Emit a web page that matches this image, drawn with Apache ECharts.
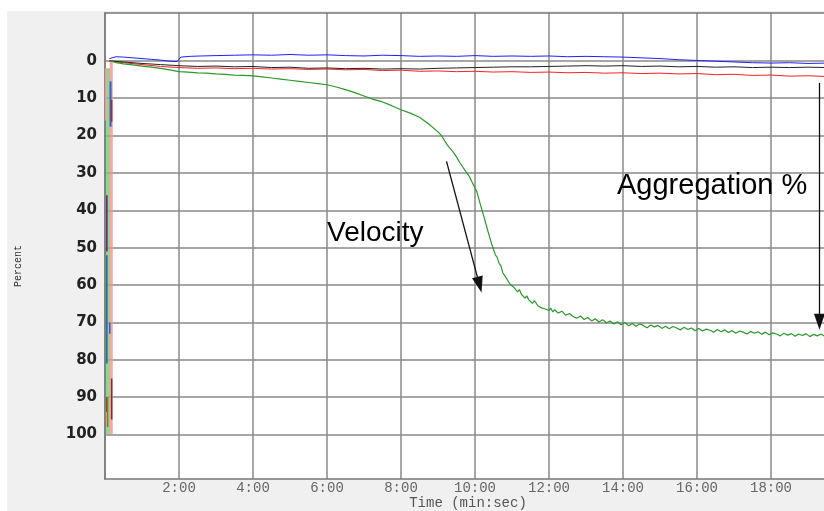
<!DOCTYPE html>
<html>
<head>
<meta charset="utf-8">
<script src="https://cdn.jsdelivr.net/npm/echarts@6/dist/echarts.min.js"></script>
<style>html,body{margin:0;padding:0;background:#fff}#c{width:824px;height:511px}</style>
</head>
<body>
<div id="c"></div>
<script>
// Y axis tick values (percent) and x axis tick values (minutes)
const yTicks = [0,10,20,30,40,50,60,70,80,90,100];
const xTicks = [2,4,6,8,10,12,14,16,18];

// [minutes, percent]
const greenData = [
[0.15,0.0],[0.3,0.5],[0.5,0.8],[0.75,1.1],[1.0,1.4],[1.25,1.7],[1.5,2.0],[1.75,2.4],[2.0,2.9],
[2.25,3.0],[2.5,3.2],[2.75,3.3],[3.0,3.5],[3.25,3.6],[3.5,3.8],[3.75,3.9],[4.0,4.0],[4.25,4.3],
[4.5,4.6],[4.75,4.9],[5.0,5.2],[5.25,5.5],[5.5,5.8],[5.75,6.1],[6.0,6.4],[6.25,7.0],[6.5,7.7],
[6.75,8.5],[7.0,9.4],[7.25,10.3],[7.5,11.0],[7.75,12.0],[8.0,13.1],[8.25,14.0],[8.5,15.1],
[8.75,16.9],[9.0,19.0],[9.1,20.1],[9.25,22.5],[9.4,24.3],[9.5,25.7],[9.6,27.4],[9.75,29.6],
[9.85,31.0],[9.95,33.0],[10.05,35.0],[10.15,38.6],[10.25,42.0],[10.35,45.6],[10.45,49.0],
[10.55,51.9],[10.6,52.6],[10.65,54.2],[10.7,54.8],[10.75,56.7],[10.8,56.9],[10.85,58.2],
[10.9,58.0],[10.95,59.8],[11.0,59.4],[11.05,60.6],[11.1,60.1],[11.15,61.8],[11.2,61.2],
[11.25,62.4],[11.3,62.0],[11.35,63.5],[11.4,62.9],[11.45,63.9],[11.5,63.6],[11.55,64.9],
[11.6,64.2],[11.65,64.8],[11.7,65.6],[11.75,65.2],[11.8,66.1],[11.85,65.7],[11.9,66.4],
[11.95,66.0],[12.0,66.8],[12.05,66.2],[12.1,67.2],[12.15,66.6],[12.25,67.5],[12.35,67.0],
[12.45,68.1],[12.55,67.6],[12.65,68.4],[12.75,68.9],[12.85,68.3],[12.95,69.2],[13.05,68.7],
[13.15,69.6],[13.25,69.0],[13.35,69.9],[13.45,69.3],[13.55,70.1],[13.65,69.6],[13.75,70.4],
[13.85,69.8],[13.95,70.6],[14.05,70.0],[14.15,70.9],[14.25,70.3],[14.35,71.0],[14.45,70.4],
[14.55,70.8],[14.65,71.4],[14.75,70.7],[14.85,71.2],[14.95,70.8],[15.05,71.6],[15.15,71.0],
[15.25,71.7],[15.35,71.1],[15.45,71.5],[15.55,72.0],[15.65,71.3],[15.75,71.9],[15.85,71.5],
[15.95,72.2],[16.05,71.6],[16.15,72.3],[16.25,71.8],[16.35,72.1],[16.45,72.6],[16.55,71.9],
[16.65,72.5],[16.75,72.0],[16.85,72.7],[16.95,72.2],[17.05,72.9],[17.15,72.3],[17.25,72.6],
[17.35,73.1],[17.45,72.4],[17.55,72.9],[17.65,72.5],[17.75,73.2],[17.85,72.6],[17.95,73.3],
[18.05,72.8],[18.15,73.1],[18.25,73.6],[18.35,72.9],[18.45,73.4],[18.55,73.0],[18.65,73.7],
[18.75,73.1],[18.85,73.5],[18.95,73.0],[19.05,73.8],[19.15,73.2],[19.25,73.6],[19.35,73.1],
[19.45,73.7],[19.55,73.3]
];
const blueData = [
[0.12,-0.6],[0.3,-1.1],[0.5,-1.0],[0.75,-0.8],[1.0,-0.6],[1.25,-0.4],[1.5,-0.2],[1.75,0.1],
[1.95,0.2],[2.05,-1.0],[2.3,-1.2],[2.6,-1.3],[3.0,-1.4],[3.5,-1.5],[4.0,-1.6],[4.5,-1.5],
[5.0,-1.7],[5.5,-1.5],[6.0,-1.6],[6.5,-1.4],[7.0,-1.3],[7.5,-1.5],[8.0,-1.4],[8.5,-1.2],
[9.0,-1.3],[9.5,-1.2],[10.0,-1.4],[10.5,-1.2],[11.0,-1.3],[11.5,-1.2],[12.0,-1.3],[12.5,-1.1],
[13.0,-1.2],[13.5,-1.1],[14.0,-1.0],[14.5,-0.8],[15.0,-0.6],[15.5,-0.3],[16.0,-0.1],[16.5,0.1],
[17.0,0.3],[17.5,0.5],[18.0,0.6],[18.5,0.5],[19.0,0.7],[19.55,0.6]
];
const blackData = [
[0.12,0.0],[0.5,0.3],[1.0,0.7],[1.5,1.0],[2.0,1.3],[2.5,1.5],[3.0,1.4],[3.5,1.6],[4.0,1.5],
[4.5,1.8],[5.0,1.7],[5.5,2.0],[6.0,1.9],[6.5,2.1],[7.0,2.0],[7.5,2.2],[8.0,2.1],[8.5,2.2],
[9.0,2.0],[9.5,1.9],[10.0,1.8],[10.5,1.7],[11.0,1.6],[11.5,1.6],[12.0,1.5],[12.5,1.4],
[13.0,1.3],[13.5,1.4],[14.0,1.3],[14.5,1.5],[15.0,1.4],[15.5,1.6],[16.0,1.5],[16.5,1.7],
[17.0,1.6],[17.5,1.8],[18.0,1.7],[18.5,1.8],[19.0,1.7],[19.55,1.8]
];
const redData = [
[0.12,0.0],[0.5,0.5],[1.0,1.0],[1.5,1.5],[2.0,1.8],[2.5,2.0],[3.0,1.9],[3.5,2.1],[4.0,2.0],
[4.5,2.2],[5.0,2.1],[5.5,2.3],[6.0,2.2],[6.5,2.4],[7.0,2.3],[7.5,2.6],[8.0,2.5],[8.5,2.8],
[9.0,2.7],[9.5,2.9],[10.0,2.8],[10.5,3.0],[11.0,2.9],[11.5,3.1],[12.0,3.0],[12.5,3.2],
[13.0,3.1],[13.5,3.3],[14.0,3.2],[14.5,3.4],[15.0,3.3],[15.5,3.5],[16.0,3.4],[16.5,3.7],
[17.0,3.6],[17.5,3.9],[18.0,3.8],[18.5,4.1],[19.0,4.0],[19.55,4.2]
];
// start-up traces near t = 0 (each [t, from], [t, to])
const pinkBand   = [[0.17,0],[0.17,100]];
const greenBand  = [[0.08,2],[0.08,100]];
const pinkTop    = [[0.02,2],[0.02,16]];
const blueSpike1 = [[0.15,5.5],[0.15,17.6]];
const redSpike1  = [[0.18,10.5],[0.18,16.3]];
const purpSpike  = [[0.05,36],[0.05,51]];
const blueSpike2 = [[0.05,52],[0.05,81]];
const blueSpike3 = [[0.13,70],[0.13,73]];
const greenSpike = [[0.05,90],[0.05,94]];
const orgSpike   = [[0.07,90],[0.07,98]];
const redSpike2  = [[0.18,85],[0.18,96]];

// annotation arrows [t, percent]
const velArrow = [[9.23,26.9],[10.12,59.9]];
const aggArrow = [[19.31,5.9],[19.31,69.8]];

function line(data, color, width, z) {
  return {type:'line', data:data, symbol:'none', silent:true, z:z||2,
          lineStyle:{color:color, width:width}, animation:false};
}

const gridColor = '#8a8a8a';
const borderColor = '#777';
const chart = echarts.init(document.getElementById('c'), null, {renderer:'canvas'});
const option = {
  animation:false,
  backgroundColor:'#ffffff',
  graphic:[
    {type:'rect', z:-10, shape:{x:7,y:11,width:830,height:510}, style:{fill:'#f0f0f0'}},
    {type:'text', z:100, style:{text:'Velocity', x:327, y:233, font:'28px "Liberation Sans", Arial, sans-serif', fill:'#000', verticalAlign:'middle'}},
    {type:'text', z:100, style:{text:'Aggregation %', x:617, y:186, font:'29px "Liberation Sans", Arial, sans-serif', fill:'#000', verticalAlign:'middle'}},
    {type:'text', z:100, style:{text:'Time (min:sec)', x:468, y:503, font:'14px "Liberation Mono", monospace', fill:'#555', align:'center', verticalAlign:'middle'}},
    {type:'text', z:100, rotation:Math.PI/2, x:18, y:266, style:{text:'Percent', x:0, y:0, font:'10px "Liberation Mono", monospace', fill:'#333', align:'center', verticalAlign:'middle'}}
  ],
  grid:{left:105, top:13, bottom:32, right:-21, outerBoundsMode:'none', containLabel:false,
        show:true, backgroundColor:'#ffffff', borderWidth:0},
  xAxis:[{type:'value', min:0, max:20, interval:2,
    axisLine:{show:true, onZero:false, lineStyle:{color:borderColor, width:1.5}}, axisTick:{show:false},
    splitLine:{show:true, lineStyle:{color:gridColor, width:1.5}},
    axisLabel:{margin:2, color:'#666', fontFamily:'"Liberation Mono", monospace', fontSize:14,
      formatter:function(v){ return xTicks.indexOf(v) >= 0 ? v + ':00' : ''; }}
  },{type:'value', position:'top', min:0, max:20,
    axisLine:{show:true, onZero:false, lineStyle:{color:borderColor, width:1.5}}, axisTick:{show:false},
    splitLine:{show:false}, axisLabel:{show:false}
  }],
  yAxis:{type:'value', inverse:true, min:-12.8, max:111.9,
    axisLine:{show:true, onZero:false, lineStyle:{color:borderColor, width:1.5}},
    axisTick:{show:false, customValues:yTicks},
    splitLine:{show:true, lineStyle:{color:gridColor, width:1.5}},
    axisLabel:{customValues:yTicks, margin:8, color:'#222', fontFamily:'"DejaVu Sans", Verdana, sans-serif', fontWeight:'bold', fontSize:15}
  },
  series:[
    line(pinkBand,'rgba(255,140,140,0.8)',3,1),
    line(greenBand,'rgba(120,200,120,0.8)',4,1),
    line(pinkTop,'rgba(255,160,160,0.8)',2,1),
    line(blueSpike1,'#3a5fcd',2,3),
    line(redSpike1,'#a03030',1.5,3),
    line(purpSpike,'#6a1a7a',1.5,3),
    line(blueSpike2,'#2a5fb0',1.5,3),
    line(blueSpike3,'#2a5fd0',1.5,3),
    line(greenSpike,'#2a6a2a',1.5,3),
    line(orgSpike,'#c06020',1.5,3),
    line(redSpike2,'#8a2a2a',1.5,3),
    line(redData,'#ff2020',1,4),
    line(blackData,'#222222',1,5),
    line(blueData,'#2020ff',1,6),
    Object.assign(line(greenData,'#2a9a2a',1.2,7), {
      markLine:{silent:true, animation:false, symbol:['none','triangle'], symbolSize:[11,16],
        label:{show:false}, lineStyle:{color:'#111', width:1.3, type:'solid'},
        data:[
          [{coord:velArrow[0]},{coord:velArrow[1]}],
          [{coord:aggArrow[0]},{coord:aggArrow[1]}]
        ]}
    })
  ]
};
chart.setOption(option);
</script>
</body>
</html>
